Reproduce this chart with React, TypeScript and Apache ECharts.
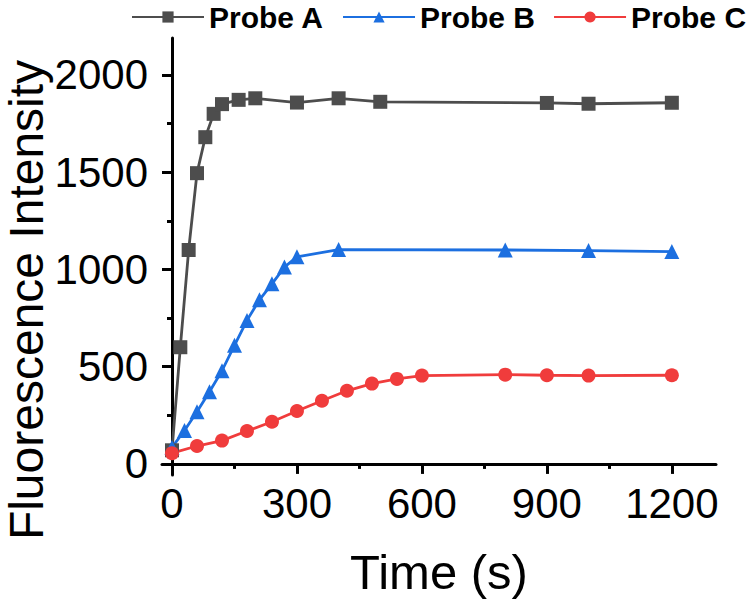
import React, { useEffect, useRef } from "react";
import * as echarts from "echarts";

const timeA = [0, 20, 40, 60, 80, 100, 120, 160, 200, 300, 400, 500, 900, 1000, 1200];
const probeA = [70, 600, 1100, 1495, 1680, 1800, 1850, 1872, 1880, 1858, 1880, 1862, 1856, 1852, 1857];

const timeB = [0, 30, 60, 90, 120, 150, 180, 210, 240, 270, 300, 400, 800, 1000, 1200];
const probeB = [85, 172, 268, 371, 479, 610, 738, 844, 926, 1012, 1065, 1102, 1100, 1097, 1092];

const timeC = [0, 60, 120, 180, 240, 300, 360, 420, 480, 540, 600, 800, 900, 1000, 1200];
const probeC = [55, 92, 120, 169, 217, 272, 325, 376, 413, 437, 454, 459, 456, 454, 456];

const seriesNames = ["Probe A", "Probe B", "Probe C"];
const xMajorTicks = [0, 300, 600, 900, 1200];
const xMinorTicks = [150, 450, 750, 1050];
const yMajorTicks = [0, 500, 1000, 1500, 2000];
const yMinorTicks = [250, 750, 1250, 1750];

const FONT = '"Liberation Sans", Arial, sans-serif';

export default function App() {
  const ref = useRef<HTMLDivElement>(null);
  useEffect(() => {
    const chart = echarts.init(ref.current!, null, { renderer: "svg" });
    const axisLine = { color: "#000", width: 3 };
    const fmt = (v: number) => String(v);
    chart.setOption({
      animation: false,
      backgroundColor: "#fff",
      grid: { left: 162, right: 34, top: 38, bottom: 130, containLabel: false, outerBoundsMode: "none" },
      legend: {
        left: 131,
        top: 2,
        width: 619,
        padding: 0,
        itemWidth: 72,
        itemHeight: 14,
        itemGap: 18,
        data: seriesNames,
        textStyle: { fontSize: 30, fontWeight: "bold", fontFamily: FONT, color: "#000" },
      },
      xAxis: [
        {
          type: "value",
          min: -24,
          max: 1306,
          position: "bottom",
          axisLine: { onZero: true, lineStyle: axisLine },
          axisTick: { show: true, customValues: xMajorTicks, length: 10, lineStyle: axisLine },
          axisLabel: { customValues: xMajorTicks, formatter: fmt, fontSize: 42, fontFamily: FONT, color: "#000", margin: 7 },
          splitLine: { show: false },
          name: "Time (s)",
          nameLocation: "middle",
          nameGap: 72,
          nameTextStyle: { fontSize: 49, fontFamily: FONT, color: "#000" },
        },
        {
          type: "value",
          min: -24,
          max: 1306,
          position: "bottom",
          axisLine: { show: false, onZero: true },
          axisTick: { show: true, customValues: xMinorTicks, length: 5, lineStyle: axisLine },
          axisLabel: { show: false },
          splitLine: { show: false },
        },
      ],
      yAxis: [
        {
          type: "value",
          min: -57,
          max: 2190,
          position: "left",
          axisLine: { onZero: true, lineStyle: axisLine },
          axisTick: { show: true, customValues: yMajorTicks, length: 10, lineStyle: axisLine },
          axisLabel: { customValues: yMajorTicks, formatter: fmt, fontSize: 42, fontFamily: FONT, color: "#000", margin: 14 },
          splitLine: { show: false },
        },
        {
          type: "value",
          min: -57,
          max: 2190,
          position: "left",
          axisLine: { show: false, onZero: true },
          axisTick: { show: true, customValues: yMinorTicks, length: 5, lineStyle: axisLine },
          axisLabel: { show: false },
          splitLine: { show: false },
        },
      ],
      graphic: [
        {
          type: "text",
          x: 26,
          y: 300,
          rotation: Math.PI / 2,
          style: {
            text: "Fluorescence Intensity",
            font: `48px ${FONT}`,
            align: "center",
            verticalAlign: "middle",
            fill: "#000",
          },
        },
      ],
      series: [
        {
          type: "line",
          name: seriesNames[0],
          xAxisIndex: 0,
          yAxisIndex: 0,
          data: timeA.map((t, i) => [t, probeA[i]]),
          symbol: "rect",
          symbolSize: 14,
          lineStyle: { width: 2.8, color: "#4d4d4d" },
          itemStyle: { color: "#4d4d4d" },
        },
        {
          type: "line",
          name: seriesNames[1],
          xAxisIndex: 0,
          yAxisIndex: 0,
          data: timeB.map((t, i) => [t, probeB[i]]),
          symbol: "triangle",
          symbolSize: 15,
          lineStyle: { width: 2.8, color: "#1c6fe0" },
          itemStyle: { color: "#1c6fe0" },
        },
        {
          type: "line",
          name: seriesNames[2],
          xAxisIndex: 0,
          yAxisIndex: 0,
          data: timeC.map((t, i) => [t, probeC[i]]),
          symbol: "circle",
          symbolSize: 14,
          lineStyle: { width: 2.8, color: "#f03c3c" },
          itemStyle: { color: "#f03c3c" },
        },
      ],
    });
    return () => chart.dispose();
  }, []);
  return <div ref={ref} style={{ position: "fixed", left: 0, top: 0, width: 750, height: 605 }} />;
}
